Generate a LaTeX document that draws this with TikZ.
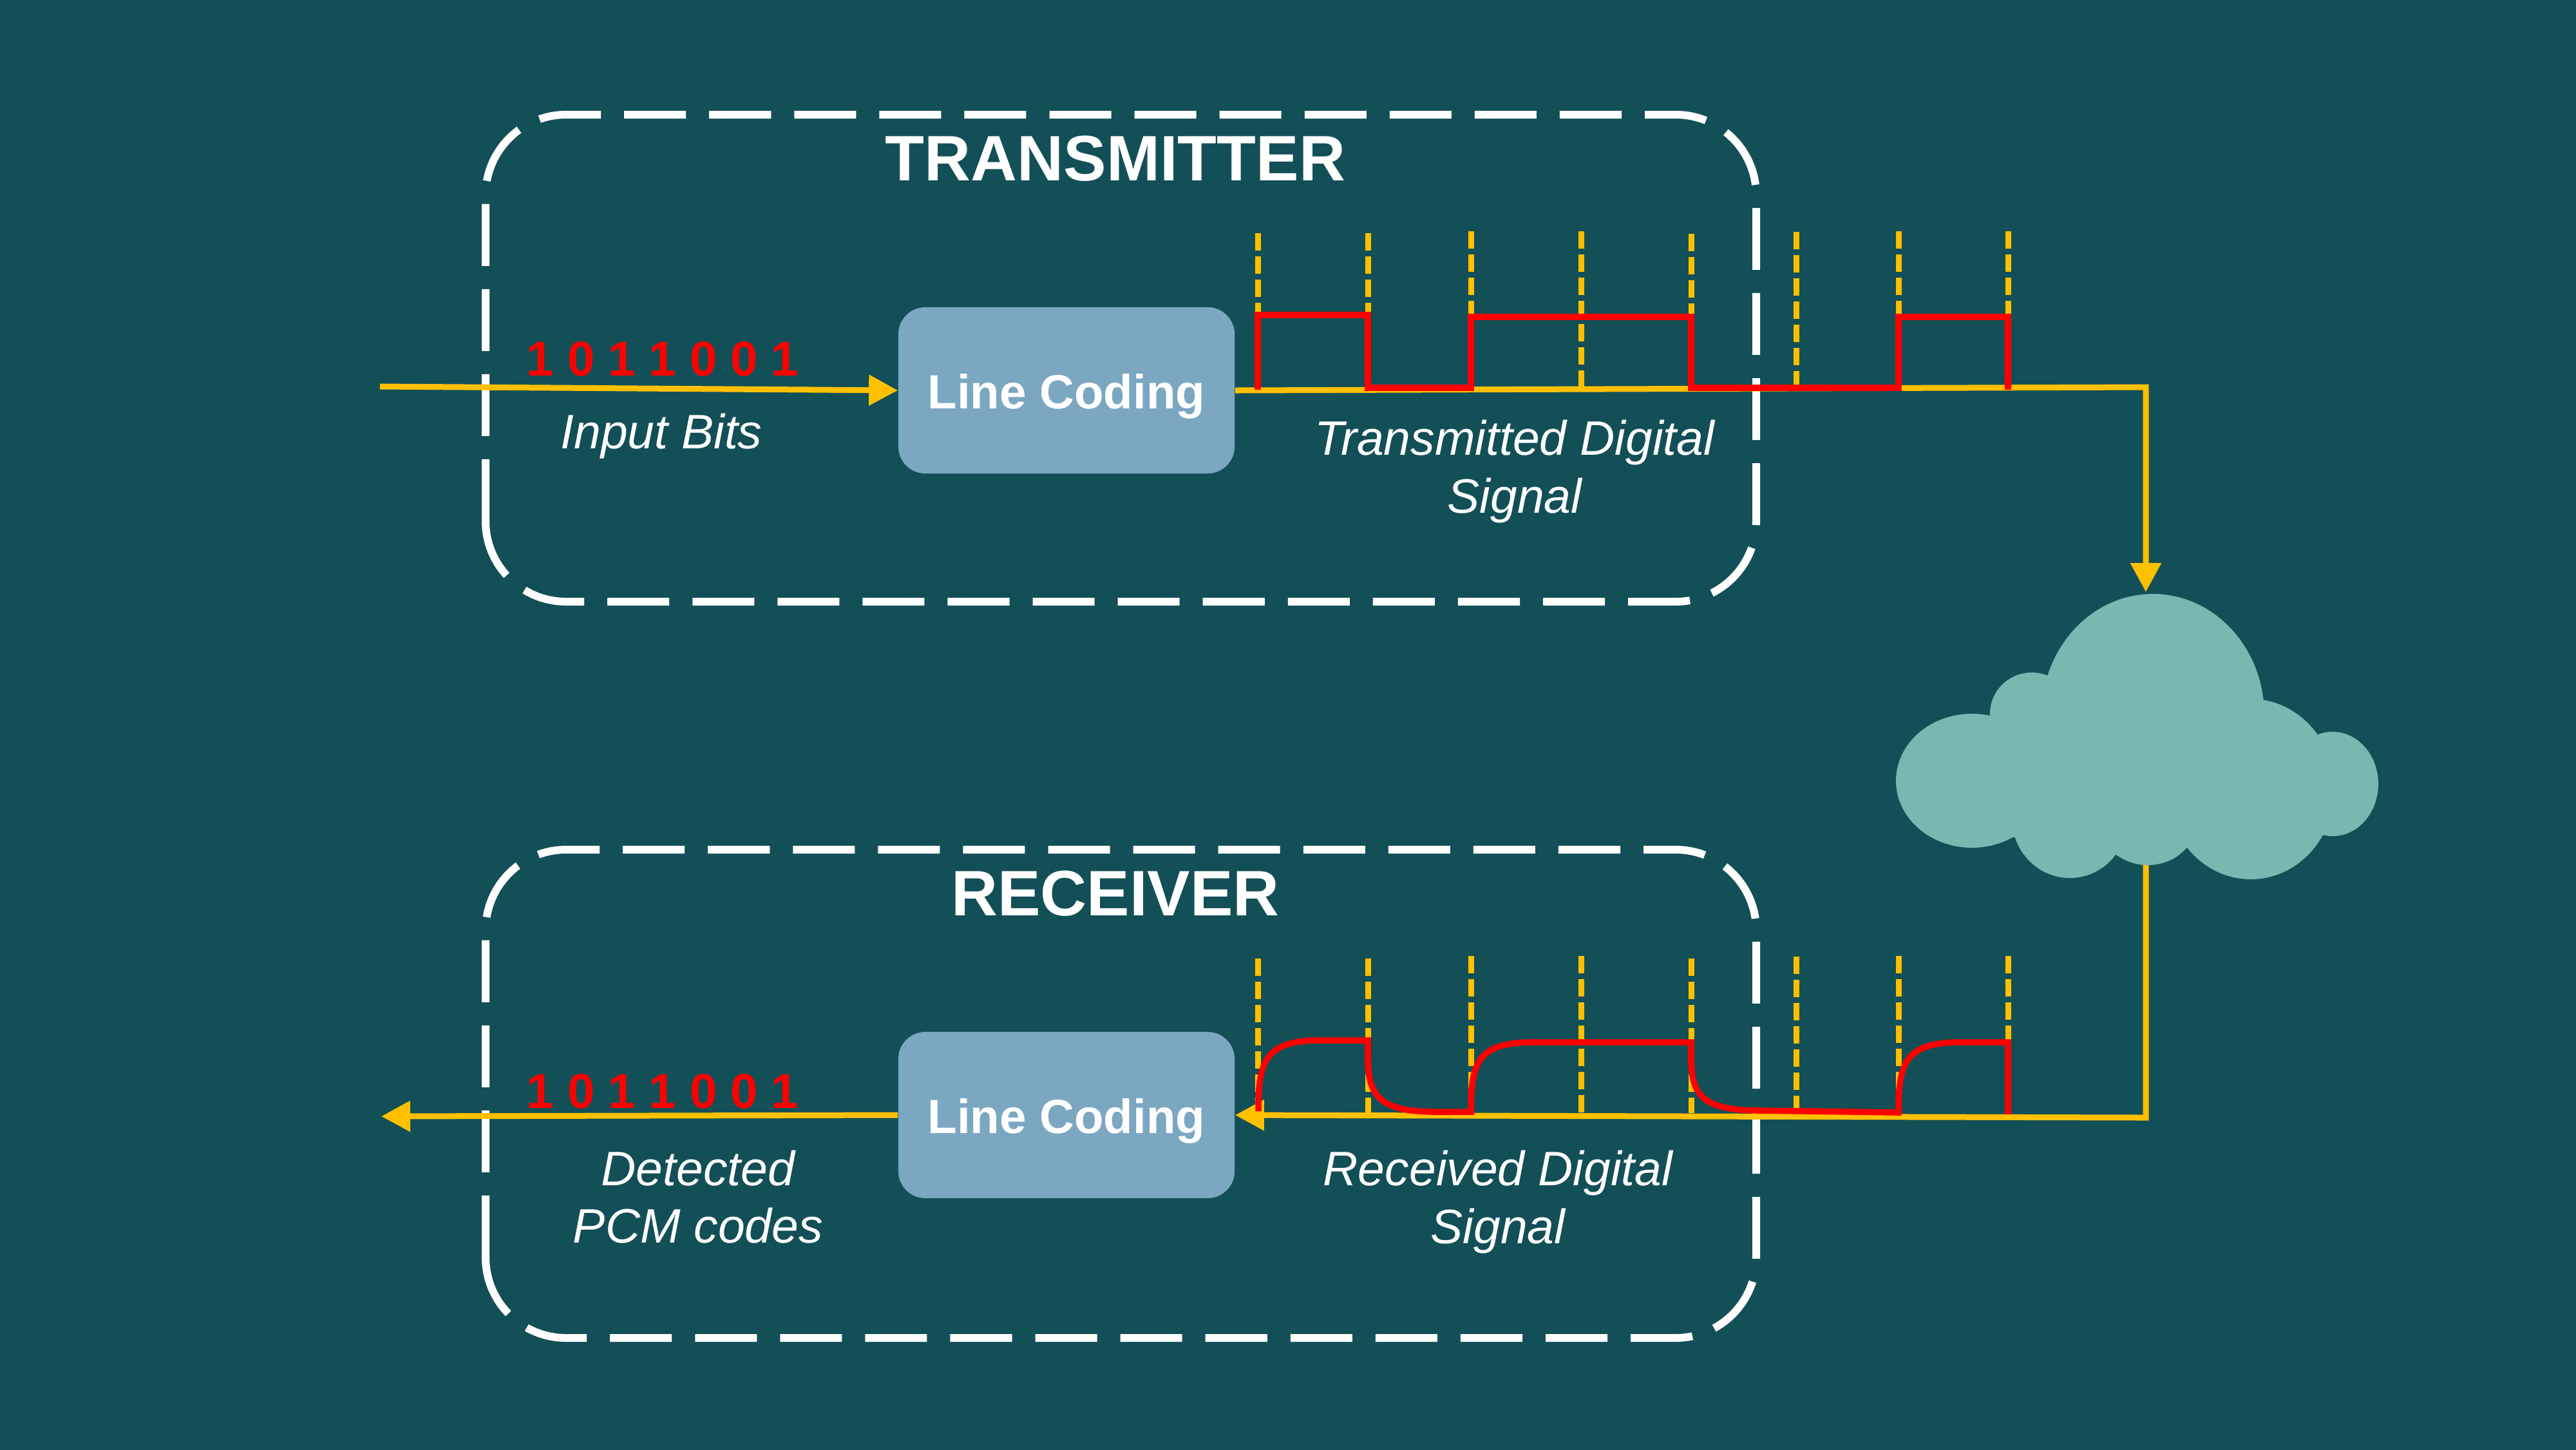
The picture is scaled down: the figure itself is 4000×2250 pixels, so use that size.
\documentclass[tikz,border=0pt]{standalone}
\usepackage{fontspec}
\setmainfont{Liberation Sans}
\usetikzlibrary{arrows.meta}
\definecolor{bgteal}{HTML}{134F57}
\definecolor{boxblue}{HTML}{7BA7C1}
\definecolor{cloudteal}{HTML}{77B8B1}
\definecolor{wireyellow}{HTML}{FFC000}
\definecolor{sigred}{HTML}{FF0000}
\tikzset{
  x=0.01cm,y=-0.01cm,
  frameline/.style={draw=white,line width=0.12cm,dash pattern=on 0.96cm off 0.36cm},
  coder/.style={fill=boxblue,rounded corners=0.42cm,minimum width=5.22cm,minimum height=2.58cm,inner sep=0pt},
  coderlabel/.style={text=white,font=\fontsize{21.2pt}{24pt}\selectfont\bfseries,inner sep=0pt},
  wire/.style={draw=wireyellow,line width=0.09cm},
  wirearrow/.style={wire,-{Triangle[length=0.45cm,width=0.46cm]}},
  tick/.style={draw=wireyellow,line width=0.09cm,dash pattern=on 0.27cm off 0.09cm},
  sig/.style={draw=sigred,line width=0.095cm,line join=miter},
  title/.style={text=white,font=\fontsize{28.35pt}{32pt}\selectfont\bfseries,inner sep=0pt,anchor=base},
  bits/.style={text=sigred,font=\fontsize{21.6pt}{26pt}\selectfont\bfseries,inner sep=0pt,anchor=base},
  caption/.style={text=white,align=center,inner sep=0pt,font=\fontsize{21.35pt}{25.5pt}\selectfont\itshape},
  lobe/.style={fill=cloudteal,draw=none}
}
\begin{document}
\begin{tikzpicture}
\useasboundingbox (0,0) rectangle (4000,2250);
\fill[bgteal] (-20,-20) rectangle (4020,2270);

% sampling ticks
\foreach \X/\Y in {1953/362,2124/362,2284/359,2455/359,2626/363,2789/360,2948/359,3118/359}
  \draw[tick] (\X,\Y) -- (\X,604);
\foreach \X/\Y in {1953/1488,2124/1488,2284/1484,2455/1484,2626/1488,2789/1485,2948/1484,3118/1484}
  \draw[tick] (\X,\Y) -- (\X,1728);

% frames
\draw[frameline] (754,809) -- (754,303) .. controls (754,234) and (810,178) .. (879,178)
  -- (2602,178) .. controls (2671,178) and (2727,234) .. (2727,303)
  -- (2727,809) .. controls (2727,878) and (2671,934) .. (2602,934)
  -- (879,934) .. controls (810,934) and (754,878) .. (754,809) -- cycle;
\draw[frameline] (754,1952) -- (754,1444) .. controls (754,1375) and (810,1319) .. (879,1319)
  -- (2602,1319) .. controls (2671,1319) and (2727,1375) .. (2727,1444)
  -- (2727,1952) .. controls (2727,2021) and (2671,2077) .. (2602,2077)
  -- (879,2077) .. controls (810,2077) and (754,2021) .. (754,1952) -- cycle;

% coders
\node[coder] (txcoder) at (1656,606) {};
\node[coder] (rxcoder) at (1656,1731) {};
\node[coderlabel] (txcoderlabel) at (1656,615) {Line Coding};
\node[coderlabel] (rxcoderlabel) at (1656,1740) {Line Coding};

% named free ends
\coordinate (txin) at (590,600);
\coordinate (txcorner) at (3332,601);
\coordinate (cloudtop) at (3332,919);
\coordinate (cloudbottom) at (3332,1320);
\coordinate (rxcorner) at (3332,1735);
\coordinate (rxout) at (592,1733);

% wires
\draw[wirearrow] (txin) -- (txcoder.west);
\draw[wirearrow] (txcoder.east) -- (txcorner) -- (cloudtop);
\draw[wirearrow] (cloudbottom) -- (rxcorner) -- (rxcoder.east);
\draw[wirearrow] (rxcoder.west) -- (rxout);

% cloud
\fill[lobe] (3343,1110) ellipse [x radius=173,y radius=188];
\fill[lobe] (3062,1212) ellipse [x radius=118,y radius=104];
\fill[lobe] (3155,1108) ellipse [x radius=65,y radius=64];
\fill[lobe] (3495,1225) ellipse [x radius=130,y radius=140];
\fill[lobe] (3622,1217) ellipse [x radius=71,y radius=81];
\fill[lobe] (3214,1270) ellipse [x radius=90,y radius=93];
\fill[lobe] (3335,1270) ellipse [x radius=78,y radius=73];
\fill[lobe] (3100,1120) rectangle (3560,1300);

% transmitted signal
\draw[sig] (1953,605) -- (1953,489) -- (2124,489) -- (2124,602) -- (2284,602) -- (2284,492)
  -- (2626,492) -- (2626,607);
\draw[sig] (2626,602) -- (2948,602) -- (2948,492) -- (3118,492) -- (3118,605);

% received signal
\draw[sig] (1954,1725) .. controls (1954,1650) and (1962,1615) .. (2050,1615) -- (2124,1615)
  -- (2124,1640) .. controls (2124,1700) and (2140,1726) .. (2230,1726) -- (2284,1726)
  .. controls (2284,1653) and (2292,1618) .. (2380,1618) -- (2626,1618)
  -- (2626,1640) .. controls (2626,1700) and (2642,1723) .. (2730,1724) -- (2948,1727)
  .. controls (2948,1653) and (2956,1618) .. (3044,1618) -- (3118,1618) -- (3118,1730);

% titles
\node[title] (txtitle) at (1732,280) {TRANSMITTER};
\node[title] (rxtitle) at (1732,1421) {RECEIVER};

% bits
\node[bits] (txbits) at (1029,583) {1 0 1 1 0 0 1};
\node[bits] (rxbits) at (1029,1720) {1 0 1 1 0 0 1};

% captions
\node[caption] (inlabel) at (1027,677) {Input Bits};
\node[caption] (txlabel) at (2352,732) {Transmitted Digital\\Signal};
\node[caption] (outlabel) at (1084,1858) {Detected\\PCM codes};
\node[caption] (rxlabel) at (2326,1866) {Received Digital\\Signal};
\end{tikzpicture}
\end{document}
